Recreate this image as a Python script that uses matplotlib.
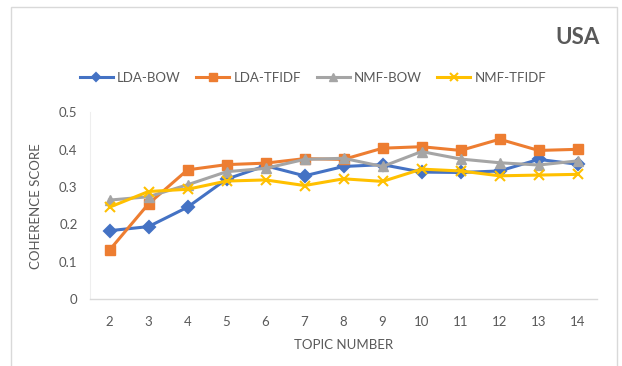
import matplotlib.pyplot as plt
from matplotlib.patches import Rectangle

plt.rcParams['font.family'] = ['Lato', 'DejaVu Sans']

topics = [2, 3, 4, 5, 6, 7, 8, 9, 10, 11, 12, 13, 14]
lda_bow = [0.183, 0.194, 0.246, 0.321, 0.357, 0.330, 0.355, 0.360, 0.340, 0.339, 0.343, 0.374, 0.361]
lda_tfidf = [0.131, 0.255, 0.346, 0.360, 0.364, 0.376, 0.374, 0.404, 0.408, 0.398, 0.428, 0.398, 0.401]
nmf_bow = [0.265, 0.274, 0.306, 0.341, 0.350, 0.374, 0.377, 0.355, 0.395, 0.375, 0.365, 0.359, 0.370]
nmf_tfidf = [0.246, 0.288, 0.294, 0.316, 0.319, 0.304, 0.322, 0.315, 0.348, 0.343, 0.330, 0.332, 0.334]
y_ticks = [0, 0.1, 0.2, 0.3, 0.4, 0.5]
y_tick_labels = ["0", "0.1", "0.2", "0.3", "0.4", "0.5"]

TEXT_COLOR = "#595959"
AXIS_COLOR = "#D9D9D9"

fig = plt.figure(figsize=(6.22, 3.66), dpi=100)
ax = fig.add_axes([0.1447, 0.183, 0.8153, 0.510])

# outer chart border
fig.patches.append(Rectangle((11 / 622, -0.05), 606 / 622, 1 - 7 / 366 + 0.05,
                             transform=fig.transFigure, fill=False,
                             edgecolor=AXIS_COLOR, linewidth=1.0))

series = [
    ("LDA-BOW", lda_bow, "#4472C4", "D", 6, 1.5),
    ("LDA-TFIDF", lda_tfidf, "#ED7D31", "s", 7.5, 1.0),
    ("NMF-BOW", nmf_bow, "#A5A5A5", "^", 7.5, 1.0),
    ("NMF-TFIDF", nmf_tfidf, "#FFC000", "x", 7.5, 1.5),
]
for name, vals, color, marker, ms, mew in series:
    ax.plot(topics, vals, color=color, linewidth=2.2, marker=marker,
            markersize=ms, markeredgewidth=mew, markeredgecolor=color,
            markerfacecolor=color, label=name)

ax.set_xlim(1.5, 14.5)
ax.set_ylim(0, 0.5)
ax.set_xticks(topics)
ax.set_xticklabels([str(t) for t in topics])
ax.set_yticks(y_ticks)
ax.set_yticklabels(y_tick_labels)
ax.tick_params(axis="both", length=0, labelsize=9.5, colors=TEXT_COLOR)
ax.tick_params(axis="x", pad=12)
ax.tick_params(axis="y", pad=9)

for side in ["top", "right"]:
    ax.spines[side].set_visible(False)
ax.spines["bottom"].set_color(AXIS_COLOR)
ax.spines["left"].set_color("#EEEEEE")
ax.spines["bottom"].set_linewidth(1.0)
ax.spines["left"].set_linewidth(0.8)

ax.set_xlabel("TOPIC NUMBER", fontsize=9.5, color=TEXT_COLOR, labelpad=8)
ax.set_ylabel("COHERENCE SCORE", fontsize=9.5, color=TEXT_COLOR, labelpad=12)

fig.text(600 / 622, 1 - 37 / 366, "USA", fontsize=16, fontweight="bold",
         color=TEXT_COLOR, ha="right", va="center")

leg = fig.legend(loc="center", bbox_to_anchor=(313 / 622, 1 - 78 / 366), ncol=4,
                 frameon=False, fontsize=9.5, labelcolor=TEXT_COLOR,
                 handlelength=2.5, handletextpad=0.3, columnspacing=1.2,
                 markerscale=0.75)

fig.savefig("out.png", dpi=100)
